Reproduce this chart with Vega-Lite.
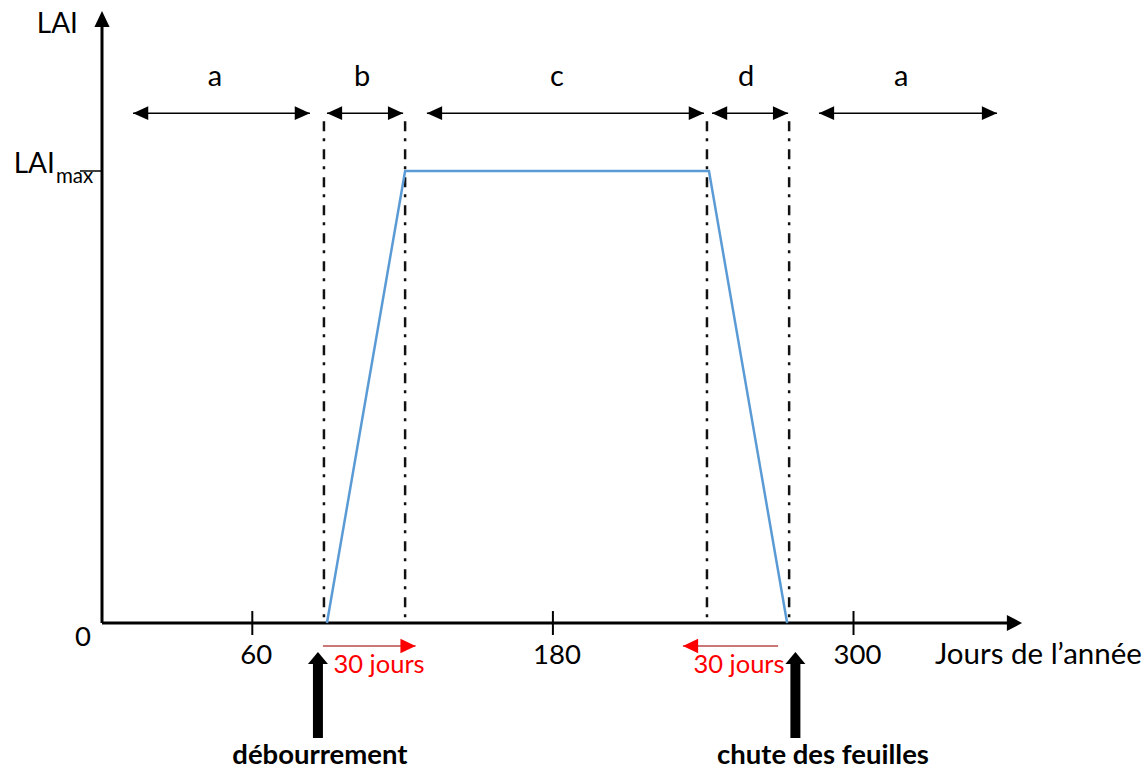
{
  "$schema": "https://vega.github.io/schema/vega-lite/v6.json",
  "width": 1148,
  "height": 771,
  "autosize": "none",
  "padding": 0,
  "background": "white",
  "config": {"view": {"stroke": null}, "text": {"font": "Lato"}},
  "datasets": {
    "lai": [
      {"day": 89.8, "lai": 0},
      {"day": 121.0, "lai": 1},
      {"day": 242.3, "lai": 1},
      {"day": 273.5, "lai": 0}
    ],
    "bounds": [{"day": 88.6}, {"day": 121.0}, {"day": 241.5}, {"day": 274.3}],
    "phases": [
      {"phase": "a", "start": 12.4, "end": 83.0, "center": 45.1},
      {"phase": "b", "start": 89.8, "end": 120.2, "center": 103.8},
      {"phase": "c", "start": 129.7, "end": 240.3, "center": 181.6},
      {"phase": "d", "start": 243.5, "end": 273.9, "center": 257.1},
      {"phase": "a", "start": 286.2, "end": 357.3, "center": 319.0}
    ],
    "ticks": [{"day": 60}, {"day": 180}, {"day": 300}],
    "shifts": [
      {"start": 88.2, "end": 125.2, "label": "30 jours", "center": 110.6},
      {"start": 269.9, "end": 231.9, "label": "30 jours", "center": 254.3}
    ],
    "events": [
      {"event": "débourrement", "day": 86.2},
      {"event": "chute des feuilles", "day": 276.8}
    ],
    "one": [{}]
  },
  "layer": [
    {
      "data": {"name": "one"},
      "mark": {"type": "rule", "color": "#000000", "strokeWidth": 3},
      "encoding": {
        "x": {"datum": 0, "type": "quantitative", "scale": {"domain": [-40.72, 417.56], "nice": false, "zero": false}, "axis": null},
        "x2": {"datum": 362.5},
        "y": {"datum": 0, "type": "quantitative", "scale": {"domain": [-0.3274, 1.3783], "nice": false, "zero": false}, "axis": null}
      }
    },
    {
      "data": {"name": "one"},
      "mark": {"type": "rule", "color": "#000000", "strokeWidth": 3},
      "encoding": {
        "x": {"datum": 0, "type": "quantitative", "scale": {"domain": [-40.72, 417.56], "nice": false, "zero": false}, "axis": null},
        "y": {"datum": 0, "type": "quantitative", "scale": {"domain": [-0.3274, 1.3783], "nice": false, "zero": false}, "axis": null},
        "y2": {"datum": 1.325}
      }
    },
    {
      "data": {"name": "one"},
      "mark": {"type": "point", "shape": "M0,0L-1.9,-1L-1.9,1Z", "filled": true, "color": "#000000", "opacity": 1, "size": 256, "strokeWidth": 0},
      "encoding": {
        "x": {"datum": 367.3, "type": "quantitative", "scale": {"domain": [-40.72, 417.56], "nice": false, "zero": false}, "axis": null},
        "y": {"datum": 0, "type": "quantitative", "scale": {"domain": [-0.3274, 1.3783], "nice": false, "zero": false}, "axis": null}
      }
    },
    {
      "data": {"name": "one"},
      "mark": {"type": "point", "shape": "M0,0L-0.95,2L0.95,2Z", "filled": true, "color": "#000000", "opacity": 1, "size": 256, "strokeWidth": 0},
      "encoding": {
        "x": {"datum": 0, "type": "quantitative", "scale": {"domain": [-40.72, 417.56], "nice": false, "zero": false}, "axis": null},
        "y": {"datum": 1.354, "type": "quantitative", "scale": {"domain": [-0.3274, 1.3783], "nice": false, "zero": false}, "axis": null}
      }
    },
    {
      "data": {"name": "ticks"},
      "mark": {"type": "rule", "color": "#000000", "strokeWidth": 2},
      "encoding": {
        "x": {"field": "day", "type": "quantitative", "scale": {"domain": [-40.72, 417.56], "nice": false, "zero": false}, "axis": null},
        "y": {"datum": -0.0265, "type": "quantitative", "scale": {"domain": [-0.3274, 1.3783], "nice": false, "zero": false}, "axis": null},
        "y2": {"datum": 0.0265}
      }
    },
    {
      "data": {"name": "ticks"},
      "mark": {"type": "text", "fontSize": 27.5, "color": "#000000", "align": "center", "baseline": "middle", "dx": 4},
      "encoding": {
        "x": {"field": "day", "type": "quantitative", "scale": {"domain": [-40.72, 417.56], "nice": false, "zero": false}, "axis": null},
        "y": {"datum": -0.073, "type": "quantitative", "scale": {"domain": [-0.3274, 1.3783], "nice": false, "zero": false}, "axis": null},
        "text": {"field": "day", "type": "quantitative"}
      }
    },
    {
      "data": {"name": "one"},
      "mark": {"type": "rule", "color": "#000000", "strokeWidth": 1.5},
      "encoding": {
        "x": {"datum": -8.8, "type": "quantitative", "scale": {"domain": [-40.72, 417.56], "nice": false, "zero": false}, "axis": null},
        "x2": {"datum": 0},
        "y": {"datum": 1, "type": "quantitative", "scale": {"domain": [-0.3274, 1.3783], "nice": false, "zero": false}, "axis": null}
      }
    },
    {
      "data": {"name": "one"},
      "mark": {"type": "text", "text": "LAI", "fontSize": 28, "color": "#000000", "align": "right", "baseline": "alphabetic"},
      "encoding": {
        "x": {"datum": -18.8, "type": "quantitative", "scale": {"domain": [-40.72, 417.56], "nice": false, "zero": false}, "axis": null},
        "y": {"datum": 0.9956, "type": "quantitative", "scale": {"domain": [-0.3274, 1.3783], "nice": false, "zero": false}, "axis": null}
      }
    },
    {
      "data": {"name": "one"},
      "mark": {"type": "text", "text": "max", "fontSize": 20.5, "color": "#000000", "align": "left", "baseline": "alphabetic"},
      "encoding": {
        "x": {"datum": -18.4, "type": "quantitative", "scale": {"domain": [-40.72, 417.56], "nice": false, "zero": false}, "axis": null},
        "y": {"datum": 0.9735, "type": "quantitative", "scale": {"domain": [-0.3274, 1.3783], "nice": false, "zero": false}, "axis": null}
      }
    },
    {
      "data": {"name": "one"},
      "mark": {"type": "text", "text": "LAI", "fontSize": 28, "color": "#000000", "align": "right", "baseline": "alphabetic"},
      "encoding": {
        "x": {"datum": -9.6, "type": "quantitative", "scale": {"domain": [-40.72, 417.56], "nice": false, "zero": false}, "axis": null},
        "y": {"datum": 1.305, "type": "quantitative", "scale": {"domain": [-0.3274, 1.3783], "nice": false, "zero": false}, "axis": null}
      }
    },
    {
      "data": {"name": "one"},
      "mark": {"type": "text", "text": "0", "fontSize": 27.5, "color": "#000000", "align": "center", "baseline": "middle"},
      "encoding": {
        "x": {"datum": -7.6, "type": "quantitative", "scale": {"domain": [-40.72, 417.56], "nice": false, "zero": false}, "axis": null},
        "y": {"datum": -0.0332, "type": "quantitative", "scale": {"domain": [-0.3274, 1.3783], "nice": false, "zero": false}, "axis": null}
      }
    },
    {
      "data": {"name": "one"},
      "mark": {"type": "text", "text": "Jours de l’année", "fontSize": 29.5, "color": "#000000", "align": "left", "baseline": "middle"},
      "encoding": {
        "x": {"datum": 332.5, "type": "quantitative", "scale": {"domain": [-40.72, 417.56], "nice": false, "zero": false}, "axis": null},
        "y": {"datum": -0.071, "type": "quantitative", "scale": {"domain": [-0.3274, 1.3783], "nice": false, "zero": false}, "axis": null}
      }
    },
    {
      "data": {"name": "bounds"},
      "mark": {"type": "rule", "color": "#111111", "strokeWidth": 2.5, "strokeDash": [10, 7, 3, 8]},
      "encoding": {
        "x": {"field": "day", "type": "quantitative", "scale": {"domain": [-40.72, 417.56], "nice": false, "zero": false}, "axis": null},
        "y": {"datum": 1.11, "type": "quantitative", "scale": {"domain": [-0.3274, 1.3783], "nice": false, "zero": false}, "axis": null},
        "y2": {"datum": 0}
      }
    },
    {
      "data": {"name": "lai"},
      "mark": {"type": "line", "color": "#5b9bd5", "strokeWidth": 2.5},
      "encoding": {
        "x": {"field": "day", "type": "quantitative", "scale": {"domain": [-40.72, 417.56], "nice": false, "zero": false}, "axis": null},
        "y": {"field": "lai", "type": "quantitative", "scale": {"domain": [-0.3274, 1.3783], "nice": false, "zero": false}, "axis": null}
      }
    },
    {
      "data": {"name": "phases"},
      "mark": {"type": "rule", "color": "#000000", "strokeWidth": 1.5},
      "encoding": {
        "x": {"field": "start", "type": "quantitative", "scale": {"domain": [-40.72, 417.56], "nice": false, "zero": false}, "axis": null},
        "x2": {"field": "end"},
        "y": {"datum": 1.128, "type": "quantitative", "scale": {"domain": [-0.3274, 1.3783], "nice": false, "zero": false}, "axis": null}
      }
    },
    {
      "data": {"name": "phases"},
      "mark": {"type": "point", "shape": "M0,0L1.9,-0.85L1.9,0.85Z", "filled": true, "color": "#000000", "opacity": 1, "size": 256, "strokeWidth": 0},
      "encoding": {
        "x": {"field": "start", "type": "quantitative", "scale": {"domain": [-40.72, 417.56], "nice": false, "zero": false}, "axis": null},
        "y": {"datum": 1.128, "type": "quantitative", "scale": {"domain": [-0.3274, 1.3783], "nice": false, "zero": false}, "axis": null}
      }
    },
    {
      "data": {"name": "phases"},
      "mark": {"type": "point", "shape": "M0,0L-1.9,-0.85L-1.9,0.85Z", "filled": true, "color": "#000000", "opacity": 1, "size": 256, "strokeWidth": 0},
      "encoding": {
        "x": {"field": "end", "type": "quantitative", "scale": {"domain": [-40.72, 417.56], "nice": false, "zero": false}, "axis": null},
        "y": {"datum": 1.128, "type": "quantitative", "scale": {"domain": [-0.3274, 1.3783], "nice": false, "zero": false}, "axis": null}
      }
    },
    {
      "data": {"name": "phases"},
      "mark": {"type": "text", "fontSize": 29, "color": "#000000", "align": "center", "baseline": "middle"},
      "encoding": {
        "x": {"field": "center", "type": "quantitative", "scale": {"domain": [-40.72, 417.56], "nice": false, "zero": false}, "axis": null},
        "y": {"datum": 1.208, "type": "quantitative", "scale": {"domain": [-0.3274, 1.3783], "nice": false, "zero": false}, "axis": null},
        "text": {"field": "phase"}
      }
    },
    {
      "data": {"name": "shifts"},
      "mark": {"type": "rule", "color": "#b94a48", "strokeWidth": 1.5},
      "encoding": {
        "x": {"field": "start", "type": "quantitative", "scale": {"domain": [-40.72, 417.56], "nice": false, "zero": false}, "axis": null},
        "x2": {"field": "end"},
        "y": {"datum": -0.0509, "type": "quantitative", "scale": {"domain": [-0.3274, 1.3783], "nice": false, "zero": false}, "axis": null}
      }
    },
    {
      "data": {"name": "shifts"},
      "transform": [{"filter": "datum.end > datum.start"}],
      "mark": {"type": "point", "shape": "M0,0L-1.9,-0.9L-1.9,0.9Z", "filled": true, "color": "#ff0000", "opacity": 1, "size": 256, "strokeWidth": 0},
      "encoding": {
        "x": {"field": "end", "type": "quantitative", "scale": {"domain": [-40.72, 417.56], "nice": false, "zero": false}, "axis": null},
        "y": {"datum": -0.0509, "type": "quantitative", "scale": {"domain": [-0.3274, 1.3783], "nice": false, "zero": false}, "axis": null}
      }
    },
    {
      "data": {"name": "shifts"},
      "transform": [{"filter": "datum.end < datum.start"}],
      "mark": {"type": "point", "shape": "M0,0L1.9,-0.9L1.9,0.9Z", "filled": true, "color": "#ff0000", "opacity": 1, "size": 256, "strokeWidth": 0},
      "encoding": {
        "x": {"field": "end", "type": "quantitative", "scale": {"domain": [-40.72, 417.56], "nice": false, "zero": false}, "axis": null},
        "y": {"datum": -0.0509, "type": "quantitative", "scale": {"domain": [-0.3274, 1.3783], "nice": false, "zero": false}, "axis": null}
      }
    },
    {
      "data": {"name": "shifts"},
      "mark": {"type": "text", "fontSize": 25.5, "color": "#ff0000", "align": "center", "baseline": "middle"},
      "encoding": {
        "x": {"field": "center", "type": "quantitative", "scale": {"domain": [-40.72, 417.56], "nice": false, "zero": false}, "axis": null},
        "y": {"datum": -0.0918, "type": "quantitative", "scale": {"domain": [-0.3274, 1.3783], "nice": false, "zero": false}, "axis": null},
        "text": {"field": "label"}
      }
    },
    {
      "data": {"name": "events"},
      "mark": {"type": "rule", "color": "#000000", "strokeWidth": 10},
      "encoding": {
        "x": {"field": "day", "type": "quantitative", "scale": {"domain": [-40.72, 417.56], "nice": false, "zero": false}, "axis": null},
        "y": {"datum": -0.0885, "type": "quantitative", "scale": {"domain": [-0.3274, 1.3783], "nice": false, "zero": false}, "axis": null},
        "y2": {"datum": -0.2544}
      }
    },
    {
      "data": {"name": "events"},
      "mark": {"type": "point", "shape": "M0,0L1.25,1.5L-1.25,1.5Z", "filled": true, "color": "#000000", "opacity": 1, "size": 256, "strokeWidth": 0},
      "encoding": {
        "x": {"field": "day", "type": "quantitative", "scale": {"domain": [-40.72, 417.56], "nice": false, "zero": false}, "axis": null},
        "y": {"datum": -0.0642, "type": "quantitative", "scale": {"domain": [-0.3274, 1.3783], "nice": false, "zero": false}, "axis": null}
      }
    },
    {
      "data": {"name": "one"},
      "mark": {"type": "text", "text": "débourrement", "fontSize": 27.5, "fontWeight": "bold", "color": "#000000", "align": "center", "baseline": "alphabetic"},
      "encoding": {
        "x": {"datum": 87.0, "type": "quantitative", "scale": {"domain": [-40.72, 417.56], "nice": false, "zero": false}, "axis": null},
        "y": {"datum": -0.312, "type": "quantitative", "scale": {"domain": [-0.3274, 1.3783], "nice": false, "zero": false}, "axis": null}
      }
    },
    {
      "data": {"name": "one"},
      "mark": {"type": "text", "text": "chute des feuilles", "fontSize": 27.5, "fontWeight": "bold", "color": "#000000", "align": "center", "baseline": "alphabetic"},
      "encoding": {
        "x": {"datum": 287.8, "type": "quantitative", "scale": {"domain": [-40.72, 417.56], "nice": false, "zero": false}, "axis": null},
        "y": {"datum": -0.312, "type": "quantitative", "scale": {"domain": [-0.3274, 1.3783], "nice": false, "zero": false}, "axis": null}
      }
    }
  ]
}
